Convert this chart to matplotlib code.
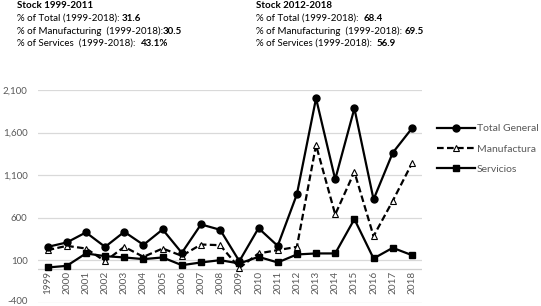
import matplotlib
matplotlib.use("Agg")
import matplotlib.pyplot as plt
from matplotlib.transforms import ScaledTranslation

years = [str(y) for y in range(1999, 2019)]
total_general = [256, 308, 426, 256, 433, 280, 461, 186, 520, 457, 88, 476, 268,
                 873, 2002, 1049, 1884, 814, 1362, 1649]
manufactura = [218, 268, 237, 88, 256, 139, 237, 151, 284, 276, 9, 179, 218,
               256, 1452, 637, 1138, 382, 797, 1237]
servicios = [14, 33, 179, 147, 132, 112, 132, 41, 73, 100, 61, 139, 73,
             167, 179, 179, 582, 120, 245, 159]
series_labels = ["Total General", "Manufactura", "Servicios"]
yticks = [-400, 100, 600, 1100, 1600, 2100]

left_title = "Stock 1999-2011"
left_lines = [("% of Total (1999-2018): ", "31.6"),
              ("% of Manufacturing  (1999-2018):", "30.5"),
              ("% of Services  (1999-2018):  ", "43.1%")]
right_title = "Stock 2012-2018"
right_lines = [("% of Total (1999-2018):  ", "68.4"),
               ("% of Manufacturing  (1999-2018): ", "69.5"),
               ("% of Services (1999-2018):  ", "56.9")]

plt.rcParams['font.family'] = ['Lato', 'DejaVu Sans']
W, H = 541, 306
fig = plt.figure(figsize=(W / 100, H / 100), dpi=100)
ax = fig.add_axes([38 / W, 3.3 / H, (421.5 - 38) / W, (302.7 - 90) / H])

x = list(range(len(years)))
lw = 1.6
ax.plot(x, total_general, color='black', lw=lw, marker='o', ms=5, label=series_labels[0], zorder=4)
ax.plot(x, manufactura, color='black', lw=lw, ls=(0, (3, 1.5)), marker='^', ms=5,
        mfc='white', mec='black', mew=0.8, label=series_labels[1], zorder=3)
ax.plot(x, servicios, color='black', lw=lw, marker='s', ms=5, label=series_labels[2], zorder=5)

ax.set_xlim(-0.5, len(years) - 0.5)
ax.set_ylim(-400, 2100)
ax.set_yticks(yticks)
ax.set_yticklabels([f"{v:,}" for v in yticks], fontsize=7, color='#595959')
ax.tick_params(axis='y', length=0, pad=7.5)
ax.set_xticks([])
for s in ax.spines.values():
    s.set_visible(False)
for v in yticks:
    ax.axhline(v, color='#d9d9d9', lw=0.9, zorder=0)
ax.axhline(0, color='#cfcfcf', lw=0.9, zorder=0)
for i, lab in enumerate(years):
    ax.annotate(lab, xy=(i, 0), xytext=(0, -1.5), textcoords='offset points',
                rotation=90, ha='center', va='top', fontsize=7.2, color='#595959')

ax.legend(loc='upper left', bbox_to_anchor=(437 / W, 1 - 124 / H),
          bbox_transform=fig.transFigure, frameon=False, fontsize=7.5,
          handlelength=3.6, handletextpad=0.25, labelspacing=1.05, borderpad=0,
          borderaxespad=0, labelcolor='#595959')

def block(x0, title, lines):
    ys = [6, 18.5, 31, 43.3]
    fig.text(x0 / W, 1 - ys[0] / H, title, fontsize=7, fontweight='bold',
             va='center', ha='left', color='black')
    for (lab, num), yy in zip(lines, ys[1:]):
        t = fig.text(x0 / W, 1 - yy / H, lab, fontsize=7, va='center', ha='left', color='black')
        ax.annotate(num, xy=(1, 0.5), xycoords=t, va='center', ha='left',
                    fontsize=7, fontweight='bold', color='black', annotation_clip=False)

block(17, left_title, left_lines)
block(256, right_title, right_lines)

first = ax.yaxis.get_major_ticks()[0].label1
first.set_transform(first.get_transform() + ScaledTranslation(0, 2.2 / 100, fig.dpi_scale_trans))

fig.savefig("out.png", dpi=100)
